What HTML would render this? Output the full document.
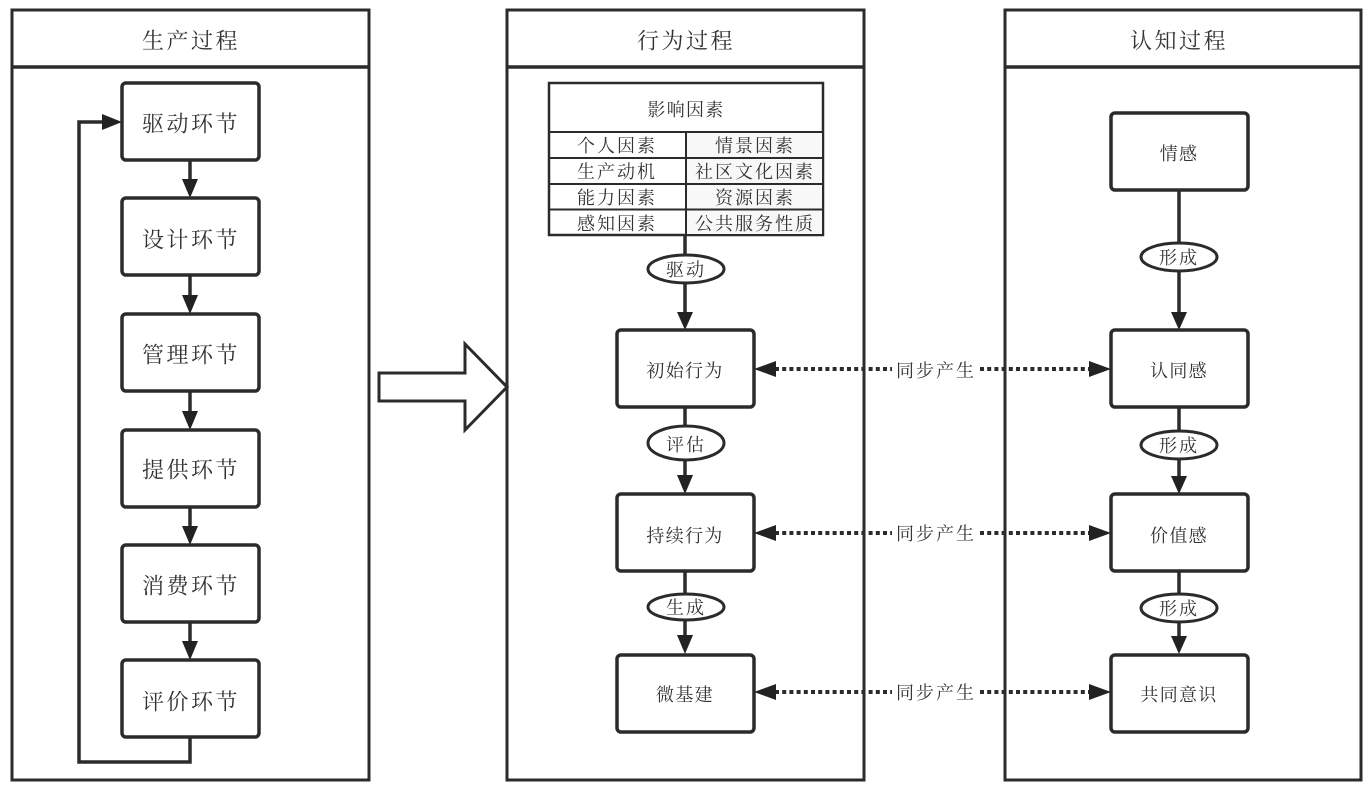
<!DOCTYPE html>
<html lang="zh"><head><meta charset="utf-8"><title>过程图</title>
<style>
html,body{margin:0;padding:0;background:#fff}
svg{display:block}
text{font-family:"Liberation Serif","Noto Serif CJK SC","WenQuanYi Zen Hei",serif;fill:#333;text-anchor:middle;dominant-baseline:central;transform:translateY(2px)}
.p{fill:#fff;stroke:#2b2b2b;stroke-width:3}
.l{fill:none;stroke:#2b2b2b;stroke-width:3.500}
.h{fill:#222;stroke:none}
.b{fill:#fff;stroke:#2b2b2b;stroke-width:3.500}
.e{fill:#fff;stroke:#2b2b2b;stroke-width:3}
.d{fill:none;stroke:#2b2b2b;stroke-width:4;stroke-dasharray:4 3.2}
.h24{font-size:22px;letter-spacing:2.500px}
.n24{font-size:22px;letter-spacing:2.500px}
.n20{font-size:18px;letter-spacing:1.300px}
.c{font-size:18px;letter-spacing:2px}
.o{font-size:18px;letter-spacing:2px;transform:translateY(1px)}
.s{font-size:18px;letter-spacing:2px}
</style></head><body>
<svg width="1365" height="786" viewBox="0 0 1365 786" xmlns="http://www.w3.org/2000/svg">
<rect width="1365" height="786" fill="#fff"/>

<!-- Panels -->
<rect class="p" x="12" y="10" width="357" height="770"/><line class="l" x1="12" y1="67" x2="369" y2="67"/>
<rect class="p" x="507" y="10" width="357" height="770"/><line class="l" x1="507" y1="67" x2="864" y2="67"/>
<rect class="p" x="1005" y="10" width="356" height="770"/><line class="l" x1="1005" y1="67" x2="1361" y2="67"/>
<text class="h24" x="191" y="39">生产过程</text>
<text class="h24" x="686" y="39">行为过程</text>
<text class="h24" x="1179" y="39">认知过程</text>

<!-- Big arrow -->
<polygon points="379,373 465,373 465,344 507,387 465,430 465,401 379,401" fill="#fff" stroke="#2b2b2b" stroke-width="3"/>
<line class="p" x1="507" y1="330" x2="507" y2="450"/>

<!-- Left connectors -->
<path class="l" d="M190,735V762H79V122H110"/>
<polygon class="h" points="122,122 102,114 102,130"/>
<path class="l" d="M190,160V185M190,276V300M190,391V416M190,507V531M190,622V647"/>
<polygon class="h" points="190,198 182,179 198,179"/>
<polygon class="h" points="190,314 182,295 198,295"/>
<polygon class="h" points="190,430 182,411 198,411"/>
<polygon class="h" points="190,545 182,526 198,526"/>
<polygon class="h" points="190,660 182,641 198,641"/>

<!-- Left boxes -->
<rect class="b" x="122" y="83" width="137" height="77" rx="4"/><text class="n24" x="191" y="122">驱动环节</text>
<rect class="b" x="122" y="198" width="137" height="77" rx="4"/><text class="n24" x="191" y="238">设计环节</text>
<rect class="b" x="122" y="314" width="137" height="77" rx="4"/><text class="n24" x="191" y="353">管理环节</text>
<rect class="b" x="122" y="430" width="137" height="77" rx="4"/><text class="n24" x="191" y="468">提供环节</text>
<rect class="b" x="122" y="545" width="137" height="77" rx="4"/><text class="n24" x="191" y="584">消费环节</text>
<rect class="b" x="122" y="660" width="137" height="77" rx="4"/><text class="n24" x="191" y="700">评价环节</text>

<!-- Factors table -->
<rect x="549" y="83" width="274" height="152" fill="#fff" stroke="#2b2b2b" stroke-width="2.500"/>
<rect x="687" y="133" width="135" height="101" fill="#f8f8f8"/>
<path d="M549,132H823M549,158H823M549,184H823M549,209.500H823M686,132V235" fill="none" stroke="#2b2b2b" stroke-width="2"/>
<text class="n20" x="686" y="108">影响因素</text>
<text class="c" x="617" y="144">个人因素</text><text class="c" x="755" y="144">情景因素</text>
<text class="c" x="617" y="170">生产动机</text><text class="c" x="755" y="170">社区文化因素</text>
<text class="c" x="617" y="196">能力因素</text><text class="c" x="755" y="196">资源因素</text>
<text class="c" x="617" y="222">感知因素</text><text class="c" x="755" y="222">公共服务性质</text>

<!-- Middle connectors -->
<path class="l" d="M685,235V318M685,408V482M685,572V642"/>
<polygon class="h" points="685,330 677,312 693,312"/>
<polygon class="h" points="685,494 677,475 693,475"/>
<polygon class="h" points="685,654 677,635 693,635"/>
<ellipse class="e" cx="686" cy="269" rx="38" ry="14"/><text class="o" x="686" y="269">驱动</text>
<ellipse class="e" cx="686" cy="443" rx="38" ry="17"/><text class="o" x="686" y="444">评估</text>
<ellipse class="e" cx="686" cy="607" rx="38" ry="13"/><text class="o" x="686" y="607">生成</text>

<!-- Middle boxes -->
<rect class="b" x="617" y="330" width="137" height="77" rx="4"/><text class="n20" x="685" y="369">初始行为</text>
<rect class="b" x="617" y="494" width="137" height="77" rx="4"/><text class="n20" x="685" y="534">持续行为</text>
<rect class="b" x="617" y="655" width="137" height="77" rx="4"/><text class="n20" x="685" y="693">微基建</text>

<!-- Right connectors -->
<path class="l" d="M1179,190V318M1179,408V482M1179,572V642"/>
<polygon class="h" points="1179,330 1171,312 1187,312"/>
<polygon class="h" points="1179,494 1171,476 1187,476"/>
<polygon class="h" points="1179,654 1171,636 1187,636"/>
<ellipse class="e" cx="1179" cy="257" rx="38" ry="14"/><text class="o" x="1179" y="257">形成</text>
<ellipse class="e" cx="1179" cy="445" rx="38" ry="14"/><text class="o" x="1179" y="445">形成</text>
<ellipse class="e" cx="1179" cy="608" rx="38" ry="14"/><text class="o" x="1179" y="608">形成</text>

<!-- Right boxes -->
<rect class="b" x="1111" y="113" width="137" height="77" rx="4"/><text class="n20" x="1179" y="152">情感</text>
<rect class="b" x="1111" y="330" width="137" height="77" rx="4"/><text class="n20" x="1179" y="369">认同感</text>
<rect class="b" x="1111" y="494" width="137" height="77" rx="4"/><text class="n20" x="1179" y="534">价值感</text>
<rect class="b" x="1111" y="655" width="137" height="77" rx="4"/><text class="n20" x="1179" y="693">共同意识</text>

<!-- Dotted links -->
<g>
<path class="d" d="M775,369H892M980,369H1092"/>
<polygon class="h" points="754,369 776,361 776,377"/><polygon class="h" points="1111,369 1089,361 1089,377"/>
<text class="s" x="936" y="369">同步产生</text>
<path class="d" d="M775,533H892M980,533H1092"/>
<polygon class="h" points="754,533 776,525 776,541"/><polygon class="h" points="1111,533 1089,525 1089,541"/>
<text class="s" x="936" y="532">同步产生</text>
<path class="d" d="M775,692H892M980,692H1092"/>
<polygon class="h" points="754,692 776,684 776,700"/><polygon class="h" points="1111,692 1089,684 1089,700"/>
<text class="s" x="936" y="691">同步产生</text>
</g>
</svg>
</body></html>
